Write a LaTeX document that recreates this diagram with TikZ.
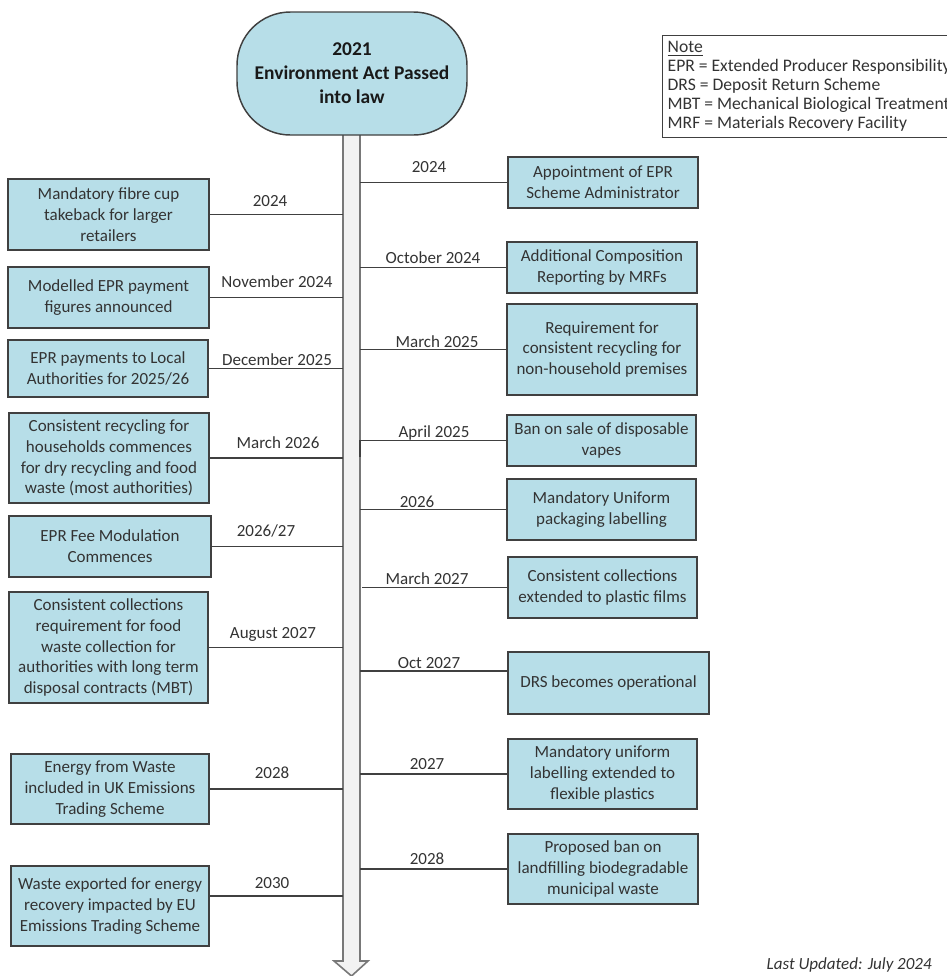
\documentclass[tikz,border=0pt]{standalone}
\usepackage{fontspec}
\setmainfont{Carlito}
\definecolor{boxfill}{RGB}{183,222,232}
\definecolor{boxline}{RGB}{64,64,64}
\definecolor{txt}{RGB}{51,51,51}
\definecolor{shaftfill}{RGB}{242,242,242}
\definecolor{shaftline}{RGB}{120,120,120}
\newdimen\pxu \pxu=0.75pt
\newcommand{\bodyfont}{\fontsize{12.75}{15.6}\selectfont}
\newcommand{\headfont}{\fontsize{14.6}{18}\selectfont\bfseries}
\tikzset{
  event/.style={draw=boxline, line width=1.1pt, fill=boxfill, text=txt, align=center, inner sep=0pt, font=\bodyfont},
  boxdim/.style 2 args={minimum width=#1\pxu, minimum height=#2\pxu},
  headline/.style={draw=boxline, line width=1.1pt, fill=boxfill, rounded corners=40pt, align=center, inner sep=0pt, font=\headfont, text=black!90},
  when/.style={text=txt, font=\bodyfont, inner sep=0pt},
  tick/.style={draw=boxline, line width=1pt},
  notebox/.style={draw=boxline, line width=1pt, fill=white, text=txt, align=left, inner xsep=5\pxu, inner ysep=2\pxu, font=\fontsize{13.2}{14.25}\selectfont}
}

\begin{document}
\begin{tikzpicture}[x=0.75pt, y=-0.75pt]
  \useasboundingbox (0,0) rectangle (947,976);

  % timeline arrow
  \draw[draw=shaftline, fill=shaftfill, line width=1.2pt, line join=miter]
    (343,135) -- (343,961) -- (334,961) -- (351.5,976) -- (368,961) -- (360,961) -- (360,135);
  \coordinate (shaftW) at (343,0);
  \coordinate (shaftE) at (360,0);

  \node[headline, boxdim={230}{123}] (act) at (352,73.5) {2021\\Environment Act Passed\\into law};

  % left side
  \node[event, boxdim={201}{71}] (l1) at (108.5,214.5) {Mandatory fibre cup\\takeback for larger\\retailers};
  \node[when] (l1d) at (270,201) {2024};
  \draw[tick] (l1.east) -- (l1.east -| shaftW);

  \node[event, boxdim={201}{61}] (l2) at (108.5,297.5) {Modelled EPR payment\\figures announced};
  \node[when] (l2d) at (277,282) {November 2024};
  \draw[tick] (l2.east) -- (l2.east -| shaftW);

  \node[event, boxdim={200}{57}] (l3) at (108,368.5) {EPR payments to Local\\Authorities for 2025/26};
  \node[when] (l3d) at (277,360) {December 2025};
  \draw[tick] (l3.east) -- (l3.east -| shaftW);

  \node[event, boxdim={200}{90}] (l4) at (109,458) {Consistent recycling for\\households commences\\for dry recycling and food\\waste (most authorities)};
  \node[when] (l4d) at (278,443) {March 2026};
  \draw[tick] (l4.east) -- (l4.east -| shaftW);

  \node[event, boxdim={202}{61}] (l5) at (110,546.5) {EPR Fee Modulation\\Commences};
  \node[when] (l5d) at (266,531) {2026/27};
  \draw[tick] (l5.east) -- (l5.east -| shaftW);

  \node[event, boxdim={199}{111}] (l6) at (108.5,647.5) {Consistent collections\\requirement for food\\waste collection for\\authorities with long term\\disposal contracts (MBT)};
  \node[when] (l6d) at (273,634) {August 2027};
  \draw[tick] (l6.east) -- (l6.east -| shaftW);

  \node[event, boxdim={198}{70}] (l7) at (110,789) {Energy from Waste\\included in UK Emissions\\Trading Scheme};
  \node[when] (l7d) at (272,773) {2028};
  \draw[tick] (l7.east) -- (l7.east -| shaftW);

  \node[event, boxdim={198}{80}] (l8) at (110,906) {Waste exported for energy\\recovery impacted by EU\\Emissions Trading Scheme};
  \node[when] (l8d) at (272,883) {2030};
  \draw[tick] ([yshift=10\pxu]l8.east) -- ([yshift=10\pxu]l8.east -| shaftW);

  % right side
  \node[event, boxdim={190}{51}] (r1) at (603,182.5) {Appointment of EPR\\Scheme Administrator};
  \node[when] (r1d) at (429,167) {2024};
  \draw[tick] (r1.west) -- (r1.west -| shaftE);

  \node[event, boxdim={190}{51}] (r2) at (602,267.5) {Additional Composition\\Reporting by MRFs};
  \node[when] (r2d) at (433,258) {October 2024};
  \draw[tick] (r2.west) -- (r2.west -| shaftE);

  \node[event, boxdim={190}{91}] (r3) at (602,349.5) {Requirement for\\consistent recycling for\\non-household premises};
  \node[when] (r3d) at (437,342) {March 2025};
  \draw[tick] (r3.west) -- (r3.west -| shaftE);

  \node[event, boxdim={189}{51}] (r4) at (601.5,440.5) {Ban on sale of disposable\\vapes};
  \node[when] (r4d) at (434,433) {April 2025};
  \coordinate (r4foot) at (360,457);
  \draw[tick] (r4foot) |- (r4.west);

  \node[event, boxdim={189}{61}] (r5) at (601.5,509.5) {Mandatory Uniform\\packaging labelling};
  \node[when] (r5d) at (417,502) {2026};
  \draw[tick] (r5.west) -- (r5.west -| shaftE);

  \node[event, boxdim={189}{61}] (r6) at (602.5,587.5) {Consistent collections\\extended to plastic films};
  \node[when] (r6d) at (427,579) {March 2027};
  \draw[tick] (r6.west) -- ([xshift=2\pxu]r6.west -| shaftE);

  \node[event, boxdim={201}{62}] (r7) at (608.5,683) {DRS becomes operational};
  \node[when] (r7d) at (429,663) {Oct 2027};
  \draw[tick] ([yshift=12\pxu]r7.west) -- ([yshift=12\pxu]r7.west -| shaftE);

  \node[event, boxdim={189}{70}] (r8) at (602.5,774) {Mandatory uniform\\labelling extended to\\flexible plastics};
  \node[when] (r8d) at (427,764) {2027};
  \draw[tick] (r8.west) -- (r8.west -| shaftE);

  \node[event, boxdim={190}{70}] (r9) at (603,869) {Proposed ban on\\landfilling biodegradable\\municipal waste};
  \node[when] (r9d) at (427,859) {2028};
  \draw[tick] (r9.west) -- (r9.west -| shaftE);

  % note and footer
  \node[notebox, anchor=north west, minimum height=102\pxu] (note) at (662,35) {\underline{Note}\\EPR = Extended Producer Responsibility\\DRS = Deposit Return Scheme\\MBT = Mechanical Biological Treatment\\MRF = Materials Recovery Facility};
  \node[when, anchor=east, font=\bodyfont\itshape] (updated) at (932,965) {Last Updated: July 2024};
\end{tikzpicture}
\end{document}
